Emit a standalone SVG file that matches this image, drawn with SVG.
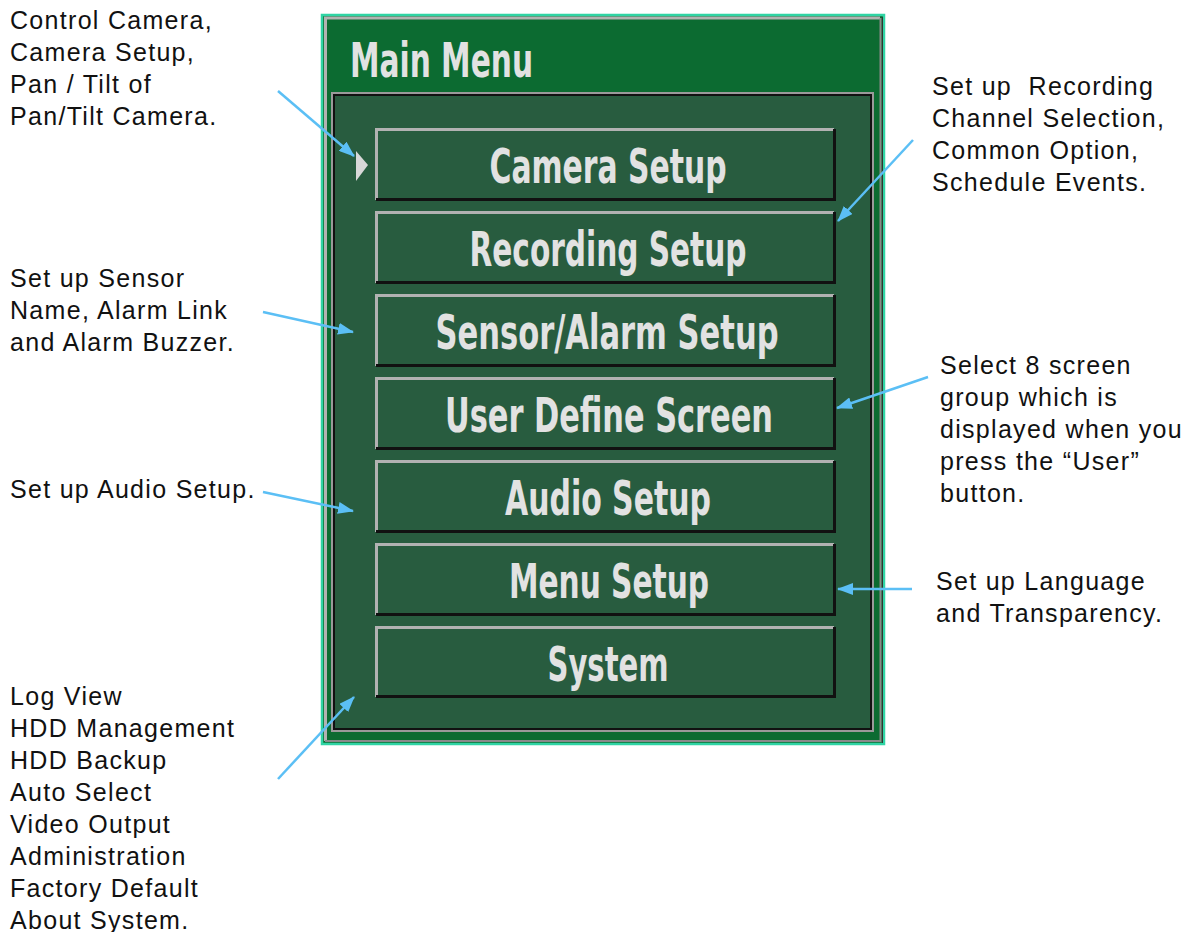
<svg xmlns="http://www.w3.org/2000/svg" width="1197" height="932" viewBox="0 0 1197 932">
<style>
.ann{font-family:"Liberation Sans",Arial,sans-serif;font-size:25px;letter-spacing:1.3px;fill:#111;white-space:pre}
.btxt{font-family:"DejaVu Sans Condensed","DejaVu Sans",sans-serif;font-size:48px;font-weight:bold;fill:#e2e2e2;text-anchor:middle}
.bfill{fill:#285c3f}
.hi{fill:none;stroke:#b2b2b2;stroke-width:3}
.lo{fill:none;stroke:#111;stroke-width:3}
.arr{fill:none;stroke:#5bbff5;stroke-width:2.5}
</style>
<defs>
<marker id="ah" viewBox="0 0 16 12" refX="15" refY="6" markerWidth="16" markerHeight="12" markerUnits="userSpaceOnUse" orient="auto">
<path d="M0,0 L16,6 L0,12 Z" fill="#5bbff5"/>
</marker>
</defs>
<rect width="1197" height="932" fill="#ffffff"/>

<g id="frame">
<rect x="322" y="15" width="562" height="729" fill="#0c6b31" stroke="#2fd4a4" stroke-width="2.5"/>
<path d="M325.5,741 V18 H880" class="hi" stroke-width="2"/>
<path d="M880.5,18 V741 H325" fill="none" stroke="#8a8a8a" stroke-width="2"/>
<path d="M882.5,17 V743" fill="none" stroke="#333" stroke-width="1"/>
<text x="350" y="77" font-family="DejaVu Sans Condensed, DejaVu Sans, sans-serif" font-size="48" font-weight="bold" fill="#e2e2e2" textLength="183" lengthAdjust="spacingAndGlyphs">Main Menu</text>
<rect x="332" y="93" width="541" height="638" fill="#285c3f" stroke="#9a9a9a" stroke-width="2"/>
<rect x="334" y="95" width="537" height="634" fill="none" stroke="#111" stroke-width="2"/>
<path d="M356,151 L368,165 L356,181 Z" fill="#d8d8d8"/>
</g>

<g id="btn-camera">
<rect x="375" y="128" width="460" height="73" class="bfill"/>
<path d="M376.5,200 V129.5 H834" class="hi"/><path d="M834.5,129 V199.5 H376" class="lo"/>
<text x="608" y="183" class="btxt" textLength="237" lengthAdjust="spacingAndGlyphs">Camera Setup</text>
</g>
<g id="btn-recording">
<rect x="375" y="211" width="460" height="73" class="bfill"/>
<path d="M376.5,283 V212.5 H834" class="hi"/><path d="M834.5,212 V282.5 H376" class="lo"/>
<text x="608" y="266" class="btxt" textLength="277" lengthAdjust="spacingAndGlyphs">Recording Setup</text>
</g>
<g id="btn-sensor">
<rect x="375" y="294" width="460" height="73" class="bfill"/>
<path d="M376.5,366 V295.5 H834" class="hi"/><path d="M834.5,295 V365.5 H376" class="lo"/>
<text x="607" y="349" class="btxt" textLength="343" lengthAdjust="spacingAndGlyphs">Sensor/Alarm Setup</text>
</g>
<g id="btn-user">
<rect x="375" y="377" width="460" height="73" class="bfill"/>
<path d="M376.5,449 V378.5 H834" class="hi"/><path d="M834.5,378 V448.5 H376" class="lo"/>
<text x="609" y="432" class="btxt" textLength="328" lengthAdjust="spacingAndGlyphs">User Define Screen</text>
</g>
<g id="btn-audio">
<rect x="375" y="460" width="460" height="73" class="bfill"/>
<path d="M376.5,532 V461.5 H834" class="hi"/><path d="M834.5,461 V531.5 H376" class="lo"/>
<text x="608" y="515" class="btxt" textLength="206" lengthAdjust="spacingAndGlyphs">Audio Setup</text>
</g>
<g id="btn-menu">
<rect x="375" y="543" width="460" height="73" class="bfill"/>
<path d="M376.5,615 V544.5 H834" class="hi"/><path d="M834.5,544 V614.5 H376" class="lo"/>
<text x="609" y="598" class="btxt" textLength="200" lengthAdjust="spacingAndGlyphs">Menu Setup</text>
</g>
<g id="btn-system">
<rect x="375" y="626" width="460" height="72" class="bfill"/>
<path d="M376.5,697 V627.5 H834" class="hi"/><path d="M834.5,627 V696.5 H376" class="lo"/>
<text x="608" y="681" class="btxt" textLength="121" lengthAdjust="spacingAndGlyphs">System</text>
</g>

<g id="note-camera" class="ann">
<text x="10" y="29">Control Camera,</text>
<text x="10" y="61">Camera Setup,</text>
<text x="10" y="93">Pan / Tilt of</text>
<text x="10" y="125">Pan/Tilt Camera.</text>
</g>
<g id="note-sensor" class="ann">
<text x="10" y="287">Set up Sensor</text>
<text x="10" y="319">Name, Alarm Link</text>
<text x="10" y="351">and Alarm Buzzer.</text>
</g>
<g id="note-audio" class="ann">
<text x="10" y="498">Set up Audio Setup.</text>
</g>
<g id="note-system" class="ann">
<text x="10" y="705">Log View</text>
<text x="10" y="737">HDD Management</text>
<text x="10" y="769">HDD Backup</text>
<text x="10" y="801">Auto Select</text>
<text x="10" y="833">Video Output</text>
<text x="10" y="865">Administration</text>
<text x="10" y="897">Factory Default</text>
<text x="10" y="929">About System.</text>
</g>
<g id="note-recording" class="ann">
<text x="932" y="95" xml:space="preserve">Set up  Recording</text>
<text x="932" y="127">Channel Selection,</text>
<text x="932" y="159">Common Option,</text>
<text x="932" y="191">Schedule Events.</text>
</g>
<g id="note-user" class="ann">
<text x="940" y="374">Select 8 screen</text>
<text x="940" y="406">group which is</text>
<text x="940" y="438">displayed when you</text>
<text x="940" y="470">press the “User”</text>
<text x="940" y="502">button.</text>
</g>
<g id="note-menu" class="ann">
<text x="936" y="590">Set up Language</text>
<text x="936" y="622">and Transparency.</text>
</g>

<g id="connectors">
<line x1="278" y1="91" x2="354" y2="156" class="arr" marker-end="url(#ah)"/>
<line x1="913" y1="140" x2="838" y2="221" class="arr" marker-end="url(#ah)"/>
<line x1="263" y1="312" x2="353" y2="332" class="arr" marker-end="url(#ah)"/>
<line x1="928" y1="377" x2="837" y2="408" class="arr" marker-end="url(#ah)"/>
<line x1="263" y1="492" x2="353" y2="511" class="arr" marker-end="url(#ah)"/>
<line x1="912" y1="589" x2="838" y2="589" class="arr" marker-end="url(#ah)"/>
<line x1="278" y1="779" x2="354" y2="697" class="arr" marker-end="url(#ah)"/>
</g>
</svg>
